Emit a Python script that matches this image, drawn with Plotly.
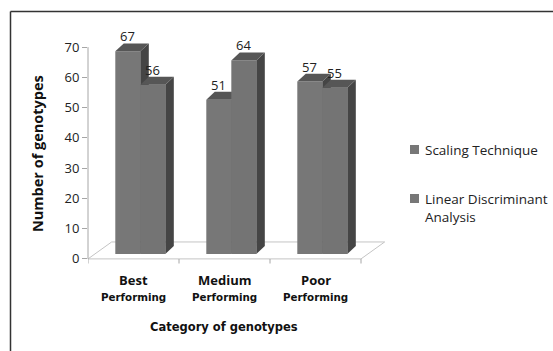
import plotly.graph_objects as go

# ---- data ----
categories = ["Best", "Medium", "Poor"]
cat_sub = ["Performing", "Performing", "Performing"]
series_names = ["Scaling Technique", "Linear Discriminant<br>Analysis"]
scaling = [67, 51, 57]
lda = [56, 64, 55]
y_ticks = [0, 10, 20, 30, 40, 50, 60, 70]

# ---- geometry / style ----
L, W, T, H = 88, 300, 32, 239
XR = [-0.5, -0.5 + W / 91.0]
YR = [-4, 75]
BAR_W = 0.275
OFF = [-0.0625, 0.2125]          # centre offset of each series' front face
SHIFT = 1.6                      # vertical shift of bars (3-D perspective)
DX, DY = 0.093, 2.64             # bar depth
FDX, FDY = 0.26, 5.6             # floor depth
FRONT = ["#777777", "#747474"]
TOP = "#565656"
SIDE = "#454545"
FONT = "Open Sans"


def pxx(px):
    return (px - L) / W


def pxy(py):
    return (T + H - py) / H


fig = go.Figure()

# floor
fx = [-0.5, 2.5, 2.5 + FDX, -0.5 + FDX, -0.5]
fy = [0, 0, FDY, FDY, 0]
fig.add_trace(go.Scatter(x=fx, y=fy, mode="lines", line=dict(color="#c4c4c4", width=1),
                         hoverinfo="skip", showlegend=False))


def poly(xs, ys, color):
    fig.add_trace(go.Scatter(x=xs + [xs[0]], y=ys + [ys[0]], mode="lines", fill="toself",
                             fillcolor=color, line=dict(width=0, color=color),
                             hoverinfo="skip", showlegend=False))


annotations = []
for i in range(len(categories)):
    for s, vals in enumerate([scaling, lda]):
        v = vals[i]
        c = i + OFF[s]
        x0, x1 = c - BAR_W / 2, c + BAR_W / 2
        b, t = SHIFT, v + SHIFT
        poly([x0, x1, x1, x0], [b, b, t, t], FRONT[s])
        poly([x1, x1 + DX, x1 + DX, x1], [b, b + DY, t + DY, t], SIDE)
        poly([x0, x1, x1 + DX, x0 + DX], [t, t, t + DY, t + DY], TOP)
        annotations.append(dict(x=c, y=t + DY, xref="x", yref="y", text=str(v),
                                showarrow=False, xanchor="center", yanchor="middle", yshift=7,
                                font=dict(family=FONT, size=13, color="#222")))

# category labels
for i, (c1, c2) in enumerate(zip(categories, cat_sub)):
    annotations.append(dict(x=i, y=pxy(280), xref="x", yref="paper", text="<b>%s</b>" % c1,
                            showarrow=False, xanchor="center", yanchor="middle",
                            font=dict(family=FONT, size=13, color="#111")))
    annotations.append(dict(x=i, y=pxy(297), xref="x", yref="paper", text="<b>%s</b>" % c2,
                            showarrow=False, xanchor="center", yanchor="middle",
                            font=dict(family="DejaVu Sans", size=10.3, color="#111")))

# axis titles
annotations.append(dict(x=pxx(37), y=pxy(153), xref="paper", yref="paper",
                        text="<b>Number of genotypes</b>", textangle=-90, showarrow=False,
                        xanchor="center", yanchor="middle",
                        font=dict(family=FONT, size=14.5, color="#111")))
annotations.append(dict(x=pxx(224), y=pxy(327), xref="paper", yref="paper",
                        text="<b>Category of genotypes</b>", showarrow=False,
                        xanchor="center", yanchor="middle",
                        font=dict(family="DejaVu Sans", size=11.5, color="#111")))

# legend
leg_y = [149.5, 198.5]
leg_text_y = [149.5, 207.5]
shapes = []
for k, name in enumerate(series_names):
    shapes.append(dict(type="rect", xref="paper", yref="paper",
                       x0=pxx(410), x1=pxx(419), y0=pxy(leg_y[k] + 4.5), y1=pxy(leg_y[k] - 4.5),
                       fillcolor=FRONT[0], line=dict(width=0)))
    annotations.append(dict(x=pxx(423), y=pxy(leg_text_y[k]), xref="paper", yref="paper",
                            text=name, showarrow=False, xanchor="left", yanchor="middle",
                            align="left",
                            font=dict(family=FONT, size=13.5, color="#222")))

# y axis line
shapes.append(dict(type="line", xref="paper", yref="y", x0=0, x1=0, y0=0, y1=70,
                   line=dict(color="#a6a6a6", width=1)))
# category boundary ticks
for xb in [-0.5, 0.5, 1.5, 2.5]:
    shapes.append(dict(type="line", xref="x", yref="paper", x0=xb, x1=xb,
                       y0=pxy(259), y1=pxy(263.5), line=dict(color="#a6a6a6", width=1)))
# outer border
shapes.append(dict(type="line", xref="paper", yref="paper", x0=pxx(10.5), x1=pxx(10.5),
                   y0=pxy(11.5), y1=pxy(352), line=dict(color="#333", width=1.5)))
shapes.append(dict(type="line", xref="paper", yref="paper", x0=pxx(10.5), x1=pxx(554),
                   y0=pxy(11.5), y1=pxy(11.5), line=dict(color="#333", width=1.5)))

fig.update_layout(
    width=553, height=351,
    margin=dict(l=L, r=553 - L - W, t=T, b=351 - T - H),
    paper_bgcolor="white", plot_bgcolor="white",
    xaxis=dict(range=XR, visible=False, fixedrange=True),
    yaxis=dict(range=YR, tickvals=y_ticks, ticks="outside", ticklen=5, tickcolor="#a6a6a6",
               showgrid=False, zeroline=False, showline=False,
               tickfont=dict(family=FONT, size=13, color="#222")),
    annotations=annotations, shapes=shapes, showlegend=False,
)

fig.write_html("out.html")
